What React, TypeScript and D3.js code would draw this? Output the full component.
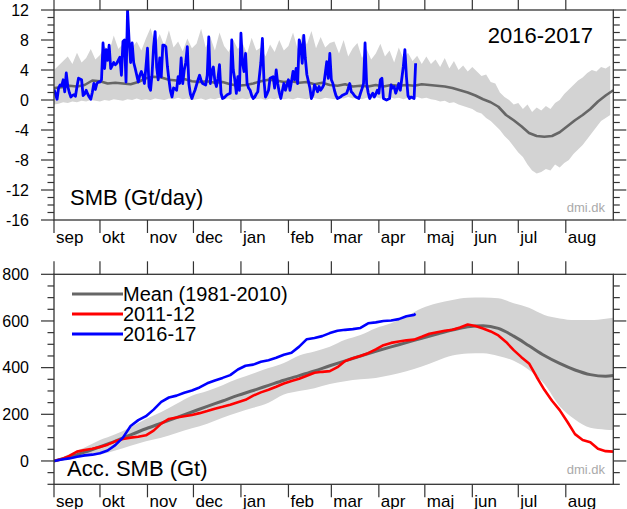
import React from 'react';
import * as d3 from 'd3';

// ---------- DATA ----------
const months = ['sep', 'okt', 'nov', 'dec', 'jan', 'feb', 'mar', 'apr', 'maj', 'jun', 'jul', 'aug'];
const monthStartDays = [0, 30, 61, 91, 122, 153, 181, 212, 242, 273, 303, 334];
const seasonLength = 365;

// Daily SMB 2016-17 (Gt/day), day 0 = 1 Sep 2016
const smb2016 = [
  1.4, 0.8, 0.1, 1.6, 2.0, 1.9, 2.7, 1.1, 3.6, 1.8,
  1.0, 0.4, 0.6, 0.7, 0.5, 1.8, 2.9, 2.8, 2.7, 0.6,
  0.8, 1.3, 0.8, 0.4, 0.1, 1.0, 2.2, 1.4, 2.2, 2.4,
  2.4, 2.7, 7.6, 4.2, 6.7, 5.3, 7.3, 4.2, 4.6, 5.0,
  4.7, 4.9, 5.3, 5.7, 3.3, 7.8, 8.0, 2.4, 12.0, 8.0,
  5.0, 7.6, 5.0, 4.2, 3.3, 2.4, 3.3, 3.8, 3.2, 2.2,
  4.4, 6.9, 1.8, 1.3, 3.5, 7.1, 9.1, 4.4, 2.7, 5.6,
  3.1, 7.3, 7.3, 7.1, 4.5, 2.7, 1.2, 0.4, 1.6, 1.5,
  1.3, 3.1, 2.2, 5.6, 2.2, 4.0, 5.0, 7.1, 2.2, 0.8,
  0.2, 0.8, 1.3, 2.0, 2.7, 3.3, 2.6, 2.2, 2.1, 2.0,
  3.3, 8.4, 2.2, 3.8, 4.4, 2.5, 1.8, 2.9, 4.7, 0.9,
  0.2, 0.3, 0.5, 0.7, 0.8, 0.9, 8.0, 4.0, 2.7, 0.9,
  3.1, 1.3, 8.9, 5.0, 3.8, 6.2, 2.2, 1.6, 1.3, 0.6,
  0.2, 0.4, 0.8, 1.1, 3.1, 5.0, 8.2, 2.7, 0.4, 0.8,
  1.3, 2.9, 3.0, 3.1, 1.6, 4.0, 2.2, 1.0, 0.2, 1.2,
  2.2, 1.3, 2.0, 2.7, 1.3, 2.5, 3.8, 2.7, 4.2, 2.2,
  8.0, 7.3, 4.9, 8.6, 5.6, 3.4, 2.5, 1.6, 0.2, 0.7,
  2.0, 1.6, 1.1, 1.8, 1.3, 1.6, 2.0, 3.5, 5.1, 2.9,
  6.2, 2.7, 2.2, 1.3, 0.6, 0.2, 0.3, 0.4, 0.6, 0.7,
  0.8, 0.9, 1.5, 2.2, 1.1, 0.9, 0.6, 0.4, 0.3, 0.2,
  0.9, 1.5, 2.2, 7.6, 2.2, 1.0, 0.2, 0.6, 0.9, 0.4,
  0.8, 1.3, 0.9, 2.7, 2.9, 0.2, 0.1, 0.0, 0.1, 0.2,
  2.0, 1.6, 1.8, 0.9, 1.5, 2.2, 1.3, 2.9, 4.5, 6.7,
  3.1, 0.6, 0.2, 0.4, 0.3, 0.2, 4.9,
];

// Mean daily SMB 1981-2010, every 5 days (day 0..365)
const meanDailyStep = 5;
const meanDaily = [
  1.6, 1.7, 1.9, 1.8, 2.0, 2.6, 2.5, 2.2, 2.3, 2.2,
  2.1, 2.4, 2.9, 3.1, 3.0, 2.7, 2.6, 2.8, 2.5, 2.4,
  2.5, 2.3, 2.4, 2.1, 1.9, 2.0, 2.2, 2.5, 2.7, 2.6,
  2.4, 2.5, 2.3, 2.4, 2.1, 2.3, 2.0, 1.9, 2.1, 1.8,
  1.9, 1.8, 2.0, 1.8, 2.0, 1.9, 2.0, 1.9, 2.1, 2.0,
  1.9, 1.8, 1.6, 1.3, 1.0, 0.6, 0.1, -0.3, -0.9, -2.0,
  -2.7, -3.5, -4.4, -4.8, -4.9, -4.8, -4.3, -3.5, -2.7, -2.0,
  -1.2, -0.2, 0.6, 1.3,
];

// Daily SMB range (grey band), every 3 days
const bandDailyStep = 3;
const bandDailyUpper = [
  4.0, 4.6, 5.2, 5.8, 4.8, 6.3, 5.0, 5.6, 6.8, 5.4,
  6.0, 7.2, 6.4, 8.6, 6.8, 7.5, 9.0, 7.0, 7.8, 6.6, 8.2,
  9.6, 7.4, 8.8, 7.2, 9.3, 7.0, 7.8, 6.5, 8.2, 6.9,
  7.5, 9.5, 7.0, 8.4, 6.6, 9.0, 7.2, 6.4, 8.0, 6.8,
  7.6, 6.2, 8.3, 6.6, 7.0, 5.8, 7.4, 6.4, 8.0, 6.6,
  7.2, 9.0, 6.8, 8.8, 7.4, 9.2, 6.9, 8.4, 7.0, 7.6,
  7.8, 6.2, 8.0, 5.8, 6.9, 7.6, 5.6, 6.8, 5.4, 6.2,
  7.5, 5.8, 6.6, 5.0, 7.0, 5.5, 6.3, 5.2, 5.9, 4.8,
  5.8, 4.8, 5.4, 4.4, 5.6, 4.2, 5.2, 4.0, 4.6, 3.8,
  4.4, 3.8, 3.2, 3.4, 2.4, 2.2, 1.0, 0.4, 0.0, -0.6,
  -0.4, -1.2, -0.6, -1.6, -1.0, -1.4, -0.8, -1.2, -0.4, 0.0,
  0.8, 1.4, 2.0, 2.6, 3.0, 3.6, 4.0, 3.8, 4.4, 4.2, 4.6,
];
const bandDailyLower = [
  -0.6, -0.5, -0.3, -0.4, -0.2, -0.3, -0.1, -0.2, 0.0, -0.1,
  -0.2, 0.0, -0.1, 0.1, 0.0, -0.1, 0.1, 0.0, 0.2, 0.0, 0.1,
  0.0, 0.2, 0.1, 0.0, 0.2, 0.1, 0.3, 0.1, 0.2, 0.0,
  0.1, 0.2, 0.0, 0.2, 0.1, 0.3, 0.1, 0.2, 0.0, 0.1,
  0.2, 0.1, 0.3, 0.1, 0.2, 0.0, 0.2, 0.1, 0.3, 0.1,
  0.2, 0.1, 0.3, 0.2, 0.1, 0.3, 0.2, 0.1, 0.3, 0.2,
  0.1, 0.3, 0.2, 0.4, 0.2, 0.3, 0.1, 0.3, 0.2, 0.4,
  0.2, 0.3, 0.4, 0.2, 0.3, 0.1, 0.3, 0.2, 0.4, 0.2,
  0.3, 0.1, 0.0, -0.2, -0.1, -0.4, -0.3, -0.6, -0.8, -1.0,
  -1.2, -1.6, -1.8, -2.4, -2.8, -3.4, -4.0, -4.8, -5.4, -6.2,
  -7.0, -7.6, -8.6, -9.4, -9.8, -9.6, -9.2, -9.4, -8.6, -9.0,
  -8.4, -8.0, -7.2, -6.6, -6.0, -5.2, -4.4, -3.6, -2.8, -2.4, -2.0,
];

// Accumulated SMB (Gt)
const accMeanDays = [0, 10, 20, 30, 40, 50, 60, 70, 80, 90, 100, 110, 120, 130, 140, 150, 160, 170, 180, 190, 200, 210, 220, 230, 240, 250, 260, 270, 280, 290, 300, 310, 320, 330, 340, 350, 360, 365];
const accMean = [0, 17, 38, 61, 85, 112, 138, 162, 186, 210, 234, 257, 281, 302, 324, 346, 366, 386, 408, 429, 450, 470, 489, 507, 526, 544, 561, 575, 580, 568, 535, 494, 452, 418, 390, 370, 363, 366];
const accBandUpper = [0, 30, 58, 90, 115, 145, 180, 210, 245, 280, 300, 325, 352, 375, 398, 420, 452, 469, 490, 519, 540, 569, 590, 619, 654, 676, 690, 700, 701, 697, 676, 657, 626, 611, 604, 604, 610, 614];
const accBandLower = [0, 8, 18, 28, 45, 65, 85, 100, 120, 140, 160, 185, 208, 228, 250, 285, 300, 312, 330, 342, 350, 356, 368, 385, 405, 430, 452, 461, 462, 450, 430, 390, 330, 235, 178, 142, 134, 133];

const accStep = 5;
const acc2011 = [
  0, 8, 22, 40, 47, 52, 60, 70, 84, 94,
  100, 104, 110, 130, 160, 180, 186, 192, 197, 205,
  214, 224, 232, 241, 252, 262, 280, 294, 305, 318,
  332, 343, 352, 365, 378, 382, 385, 402, 428, 440,
  450, 462, 478, 496, 506, 512, 517, 520, 532, 545,
  552, 558, 562, 572, 585, 578, 568, 555, 538, 510,
  475, 445, 418, 360, 305, 258, 218, 168, 115, 90,
  80, 52, 42, 40,
];
const acc2016 = [
  0, 6, 11, 18, 24, 27, 33, 45, 68, 100,
  150, 175, 192, 220, 253, 272, 280, 292, 302, 315,
  333, 345, 356, 368, 392, 408, 413, 425, 432, 442,
  455, 464, 490, 522, 527, 535, 548, 558, 562, 565,
  570, 590, 594, 600, 602, 608, 620, 626, 630,
];
const acc2016Days = d3.range(0, 236, accStep).concat([236]);

const topYTicks = [12, 8, 4, 0, -4, -8, -12, -16];
const botYTicks = [0, 200, 400, 600, 800];

const legendItems = [
  { label: 'Mean (1981-2010)', color: '#666666' },
  { label: '2011-12', color: '#ff0000' },
  { label: '2016-17', color: '#0000ff' },
];

// ---------- LAYOUT ----------
const W = 627;
const H = 509;
const left = 54;
const right = 613.3;
const topPanel = { y0: 10, y1: 220 };
const botPanel = { y0: 274.3, y1: 484.3 };
const FONT = '"Liberation Sans", Arial, Helvetica, sans-serif';
const AXIS = '#333333';
const BAND = '#d3d3d3';

const x = d3.scaleLinear().domain([0, seasonLength]).range([left, right]);
const yTop = d3.scaleLinear().domain([-16, 12]).range([topPanel.y1, topPanel.y0]);
const yBot = d3.scaleLinear().domain([-100, 800]).range([botPanel.y1, botPanel.y0]);

function Axes({ y0, y1, yScale, majors, minorStep, labels }: any) {
  const [dmin, dmax] = yScale.domain();
  const minors = d3.range(dmin, dmax + 1e-9, minorStep);
  const majorSet = new Set(majors.map((m: number) => m));
  return (
    <g>
      <rect x={left} y={y0} width={right - left} height={y1 - y0} fill="none" stroke={AXIS} strokeWidth={1.3} />
      {minors.map((v: number) => {
        const isMajor = majorSet.has(v);
        const len = isMajor ? 13 : 6.5;
        const yy = yScale(v);
        return (
          <g key={'yt' + v}>
            <line x1={left - len} x2={left} y1={yy} y2={yy} stroke={AXIS} strokeWidth={1.2} />
            <line x1={right} x2={right + len} y1={yy} y2={yy} stroke={AXIS} strokeWidth={1.2} />
          </g>
        );
      })}
      {labels.map((v: number) => (
        <text key={'yl' + v} x={29} y={yScale(v)} dy="0.36em" textAnchor="end" fontSize={16} fontFamily={FONT} fill="#000">
          {v}
        </text>
      ))}
      {monthStartDays.map((d, i) => (
        <g key={'m' + i}>
          <line x1={x(d)} x2={x(d)} y1={y0} y2={y0 - 13} stroke={AXIS} strokeWidth={1.2} />
          <line x1={x(d)} x2={x(d)} y1={y1} y2={y1 + 13} stroke={AXIS} strokeWidth={1.2} />
          <text x={x(d) + 2} y={y1 + 23} fontSize={17} fontFamily={FONT} fill="#000">
            {months[i]}
          </text>
        </g>
      ))}
    </g>
  );
}

export default function App() {
  // top panel paths
  const bandIdx = bandDailyUpper.map((_, i) => i);
  const bandTopArea = d3
    .area<number>()
    .x((i) => x(Math.min(i * bandDailyStep, seasonLength)))
    .y0((i) => yTop(bandDailyLower[i]))
    .y1((i) => yTop(bandDailyUpper[i]));

  const meanTopLine = d3
    .line<number>()
    .x((_, i) => x(i * meanDailyStep))
    .y((v) => yTop(v));
  const blueTopLine = d3
    .line<number>()
    .x((_, i) => x(i))
    .y((v) => yTop(v));

  // bottom panel paths
  const accBand = d3
    .area<number>()
    .x((d) => x(d))
    .y0((_, i) => yBot(accBandLower[i]))
    .y1((_, i) => yBot(accBandUpper[i]))
    .curve(d3.curveMonotoneX);
  const accMeanLine = d3
    .line<number>()
    .x((_, i) => x(accMeanDays[i]))
    .y((v) => yBot(v))
    .curve(d3.curveMonotoneX);
  const acc2011Line = d3
    .line<number>()
    .x((_, i) => x(Math.min(i * accStep, seasonLength)))
    .y((v) => yBot(v));
  const acc2016Line = d3
    .line<number>()
    .x((_, i) => x(acc2016Days[i]))
    .y((v) => yBot(v));

  return (
    <svg
      width={W}
      height={H}
      viewBox={`0 0 ${W} ${H}`}
      style={{ position: 'absolute', left: 0, top: 0, background: '#fff' }}
    >
      <defs>
        <clipPath id="clipTop">
          <rect x={left} y={topPanel.y0} width={right - left} height={topPanel.y1 - topPanel.y0} />
        </clipPath>
        <clipPath id="clipBot">
          <rect x={left} y={botPanel.y0} width={right - left} height={botPanel.y1 - botPanel.y0} />
        </clipPath>
      </defs>
      <rect x={0} y={0} width={W} height={H} fill="#fff" />

      {/* ---------- TOP PANEL ---------- */}
      <g clipPath="url(#clipTop)">
        <path d={bandTopArea(bandIdx) || ''} fill={BAND} stroke="none" />
        <path d={meanTopLine(meanDaily) || ''} fill="none" stroke="#666666" strokeWidth={2.6} strokeLinejoin="round" />
        <path d={blueTopLine(smb2016) || ''} fill="none" stroke="#0000ff" strokeWidth={2.8} strokeLinejoin="round" />
      </g>
      <Axes y0={topPanel.y0} y1={topPanel.y1} yScale={yTop} majors={topYTicks} minorStep={1} labels={topYTicks} />
      <text x={593} y={43} textAnchor="end" fontSize={22} fontFamily={FONT} fill="#000">
        2016-2017
      </text>
      <text x={70} y={205} fontSize={22} fontFamily={FONT} fill="#000">
        SMB (Gt/day)
      </text>
      <text x={605} y={212} textAnchor="end" fontSize={13} fontFamily={FONT} fill="#aaaaaa">
        dmi.dk
      </text>

      {/* ---------- BOTTOM PANEL ---------- */}
      <g clipPath="url(#clipBot)">
        <path d={accBand(accMeanDays) || ''} fill={BAND} stroke="none" />
        <path d={accMeanLine(accMean) || ''} fill="none" stroke="#666666" strokeWidth={3} />
        <path d={acc2011Line(acc2011) || ''} fill="none" stroke="#ff0000" strokeWidth={2.6} strokeLinejoin="round" />
        <path d={acc2016Line(acc2016) || ''} fill="none" stroke="#0000ff" strokeWidth={2.6} strokeLinejoin="round" />
      </g>
      <Axes
        y0={botPanel.y0}
        y1={botPanel.y1}
        yScale={yBot}
        majors={[0, 200, 400, 600, 800]}
        minorStep={50}
        labels={botYTicks}
      />
      {legendItems.map((item, i) => {
        const ly = 294 + i * 20;
        return (
          <g key={item.label}>
            <line x1={72} x2={123} y1={ly} y2={ly} stroke={item.color} strokeWidth={3} />
            <text x={123} y={ly + 7} fontSize={20} fontFamily={FONT} fill="#000">
              {item.label}
            </text>
          </g>
        );
      })}
      <text x={67} y={476} fontSize={22} fontFamily={FONT} fill="#000">
        Acc. SMB (Gt)
      </text>
      <text x={605} y={474} textAnchor="end" fontSize={13} fontFamily={FONT} fill="#aaaaaa">
        dmi.dk
      </text>
    </svg>
  );
}
